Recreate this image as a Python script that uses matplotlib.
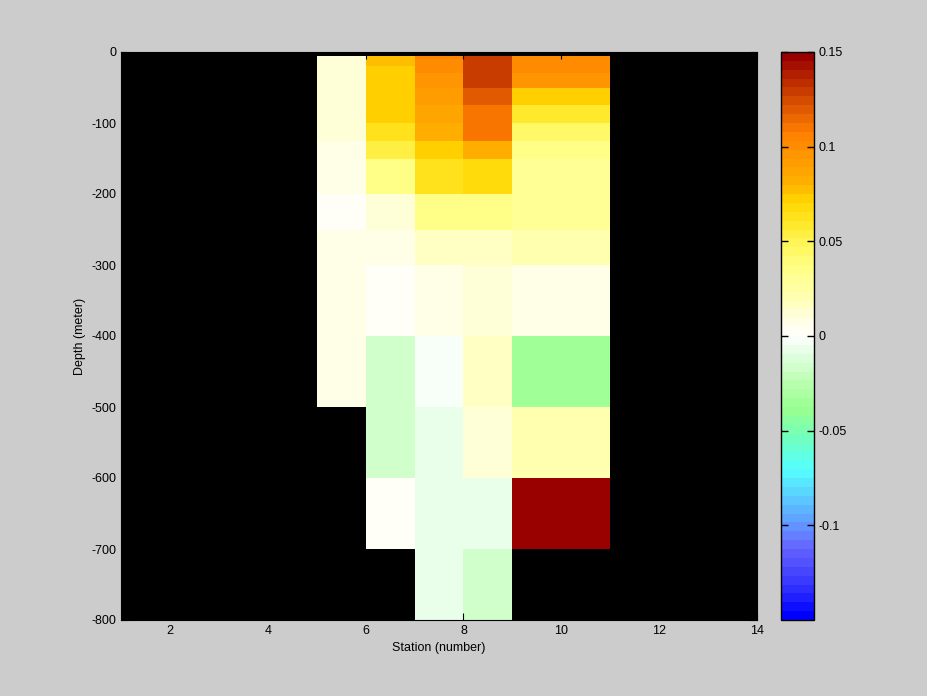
import numpy as np
import matplotlib
matplotlib.use("Agg")
import matplotlib.pyplot as plt
from matplotlib.colors import LinearSegmentedColormap

plt.rcParams['font.family'] = ['Liberation Sans', 'DejaVu Sans']
plt.rcParams['axes.unicode_minus'] = False

# Station cell edges and depth cell edges (m)
station_edges = np.arange(1, 15)
depth_edges = [-5, -10, -20, -30, -50, -75, -100, -125, -150, -200, -250,
               -300, -400, -500, -600, -700, -800]

nan = np.nan
# values per station (cell starting at that station), top to bottom (16 rows)
st5 = [0.014, 0.014, 0.014, 0.014, 0.014, 0.014, 0.014, 0.009, 0.005, 0.003,
       0.005, 0.005, 0.005, nan, nan, nan]
st6 = [0.076, 0.076, 0.073, 0.073, 0.073, 0.071, 0.063, 0.053, 0.033, 0.014,
       0.005, 0.002, -0.016, -0.016, 0.004, nan]
st7 = [0.107, 0.102, 0.102, 0.097, 0.091, 0.086, 0.080, 0.073, 0.062, 0.033,
       0.015, 0.007, -0.002, -0.007, -0.007, -0.007]
st8 = [0.130, 0.130, 0.130, 0.130, 0.120, 0.110, 0.110, 0.080, 0.066, 0.033,
       0.018, 0.012, 0.015, 0.011, -0.007, -0.016]
st9 = [0.102, 0.102, 0.102, 0.097, 0.073, 0.060, 0.045, 0.033, 0.031, 0.031,
       0.019, 0.007, -0.037, 0.020, 0.150, nan]
st10 = [0.102, 0.102, 0.102, 0.097, 0.073, 0.060, 0.045, 0.033, 0.031, 0.031,
        0.019, 0.007, -0.037, 0.020, 0.150, nan]

columns = {5: st5, 6: st6, 7: st7, 8: st8, 9: st9, 10: st10}

nrows = len(depth_edges) - 1
ncols = len(station_edges) - 1
C = np.full((nrows, ncols), np.nan)
for st, vals in columns.items():
    C[:, st - 1] = vals
C = np.ma.masked_invalid(C)

cbar_ticks = [-0.1, -0.05, 0, 0.05, 0.1, 0.15]
cbar_labels = ['-0.1', '-0.05', '0', '0.05', '0.1', '0.15']
x_ticks = [2, 4, 6, 8, 10, 12, 14]
y_ticks = [0, -100, -200, -300, -400, -500, -600, -700, -800]

# colormap: blue -> cyan -> green -> white -> yellow -> orange -> dark red
cmap_nodes = [
    (0.000, (0.00, 0.00, 1.00)),
    (0.053, (0.20, 0.20, 1.00)),
    (0.123, (0.40, 0.40, 1.00)),
    (0.164, (0.38, 0.60, 1.00)),
    (0.260, (0.33, 1.00, 1.00)),
    (0.320, (0.45, 1.00, 0.74)),
    (0.370, (0.60, 1.00, 0.56)),
    (0.420, (0.74, 1.00, 0.70)),
    (0.463, (0.87, 1.00, 0.87)),
    (0.500, (1.00, 1.00, 1.00)),
    (0.540, (1.00, 1.00, 0.84)),
    (0.573, (1.00, 1.00, 0.68)),
    (0.623, (1.00, 1.00, 0.52)),
    (0.667, (1.00, 0.96, 0.34)),
    (0.700, (1.00, 0.91, 0.17)),
    (0.740, (1.00, 0.84, 0.00)),
    (0.773, (1.00, 0.69, 0.00)),
    (0.833, (1.00, 0.57, 0.00)),
    (0.863, (1.00, 0.50, 0.00)),
    (0.933, (0.80, 0.25, 0.00)),
    (1.000, (0.60, 0.00, 0.00)),
]
cmap = LinearSegmentedColormap.from_list('custom', cmap_nodes, N=64)

fig = plt.figure(figsize=(9.28, 6.96), dpi=100, facecolor='#cccccc')
ax = fig.add_axes([121/928, 1 - 620/696, 636/928, 568/696])
ax.set_facecolor('black')
mesh = ax.pcolormesh(station_edges, depth_edges, C, cmap=cmap,
                     vmin=-0.15, vmax=0.15, shading='flat')
ax.set_xlim(1, 14)
ax.set_ylim(-800, 0)
ax.set_xticks(x_ticks)
ax.set_yticks(y_ticks)
ax.tick_params(direction='in', labelsize=9, length=5, top=True, right=True)
ax.set_xlabel('Station (number)', fontsize=9)
ax.set_ylabel('Depth (meter)', fontsize=9)

cax = fig.add_axes([781/928, 1 - 620/696, 33/928, 568/696])
cb = fig.colorbar(mesh, cax=cax)
cb.set_ticks(cbar_ticks)
cb.set_ticklabels(cbar_labels)
cax.tick_params(direction='in', labelsize=9, length=5, width=1,
                left=True, right=True)
cb.outline.set_linewidth(1)

fig.savefig('out.png', dpi=100, facecolor=fig.get_facecolor())
